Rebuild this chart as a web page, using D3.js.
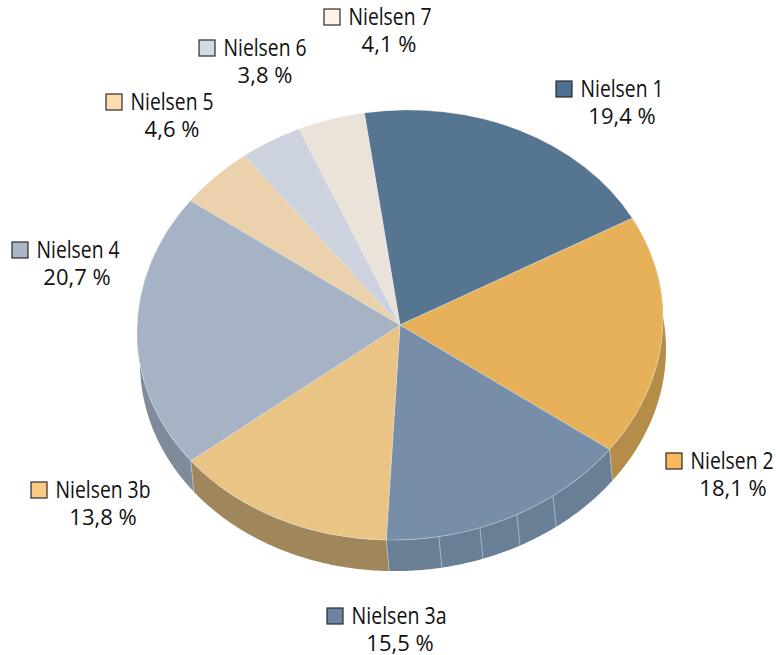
<!DOCTYPE html>
<html>
<head>
<meta charset="utf-8">
<script src="https://cdn.jsdelivr.net/npm/d3@7"></script>
<style>
  html, body { margin: 0; background: #fff; }
  text { font-family: "Open Sans", sans-serif; font-size: 23px; fill: #111; }
  text.val { font-size: 22px; }
</style>
</head>
<body>
<div id="chart"></div>
<script>
const categories = ["Nielsen 1", "Nielsen 2", "Nielsen 3a", "Nielsen 3b", "Nielsen 4", "Nielsen 5", "Nielsen 6", "Nielsen 7"];
const values = [19.4, 18.1, 15.5, 13.8, 20.7, 4.6, 3.8, 4.1];
const valueLabels = ["19,4 %", "18,1 %", "15,5 %", "13,8 %", "20,7 %", "4,6 %", "3,8 %", "4,1 %"];
const topColors = ["#557591", "#e6b158", "#778ea8", "#eac485", "#a6b3c4", "#ebd1ac", "#ccd3de", "#ebe3da"];
const sideColors = ["#445d74", "#b48d49", "#687f96", "#a0875b", "#7e8b9a", "#b5a184", "#9ea4ad", "#b5afa8"];
const swatchColors = ["#4f7093", "#f8b95c", "#6d85a3", "#fdca85", "#a9b6c8", "#fedcb0", "#d3dae6", "#fef4ea"];

// x of the label text centre and baselines, same order as categories
const labelX = [622, 733, 400, 103, 77, 172, 265, 389];
const labelY = [97, 469, 624, 498, 258, 110, 56, 25];
const swatchX = [556, 666, 327, 31, 12, 106, 199, 324];
const nameWidth = [83, 83, 95, 95, 83, 83, 83, 83];
const seamAngles = [144.4, 153.6, 162.3, 171.5]; // faint lines on the wall of 3a

const cx = 400, cy = 325, rx = 263, ry = 215, depth = 31, shift = 3;
const tilt = -0.026; // the ellipse leans a little, right side higher
const rad = d => d * Math.PI / 180;

const svg = d3.select("#chart").append("svg").attr("width", 776).attr("height", 655);

const pie = d3.pie().sort(null).startAngle(rad(-7.8)).endAngle(rad(352.2));
const slices = pie(values);

const rimY = a => cy - ry * Math.cos(a) + tilt * rx * Math.sin(a);

// side wall sits a little to the right of the top face
const wall = d3.area()
  .x0(a => cx + rx * Math.sin(a))
  .x1(a => cx + rx * Math.sin(a) + shift)
  .y0(rimY)
  .y1(a => rimY(a) + depth);

slices.forEach((s, i) => {
  const a0 = Math.max(s.startAngle, rad(75));
  const a1 = Math.min(s.endAngle, rad(272));
  if (a0 >= a1) return;
  svg.append("path")
    .attr("d", wall(d3.range(a0, a1, 0.01).concat(a1)))
    .attr("fill", sideColors[i]);
  if (s.startAngle > rad(75)) {
    svg.append("line")
      .attr("x1", wall.x0()(a0)).attr("x2", wall.x1()(a0))
      .attr("y1", wall.y0()(a0)).attr("y2", wall.y1()(a0))
      .attr("stroke", "#c9ccd0").attr("stroke-opacity", 0.6);
  }
});

seamAngles.forEach(d => {
  const a = rad(d);
  svg.append("line")
    .attr("x1", wall.x0()(a)).attr("x2", wall.x1()(a))
    .attr("y1", wall.y0()(a)).attr("y2", wall.y1()(a))
    .attr("stroke", "#a9b6c4").attr("stroke-width", 1);
});

const arc = d3.arc().innerRadius(0).outerRadius(rx);

svg.append("g")
  .attr("transform", `matrix(1,${tilt},0,${ry / rx},${cx},${cy})`)
  .selectAll("path")
  .data(slices)
  .join("path")
  .attr("d", arc)
  .attr("fill", (d, i) => topColors[i])
  .attr("stroke", "#e4e6ea")
  .attr("stroke-width", 0.6)
  .attr("stroke-opacity", 0.7);

const labels = svg.append("g").selectAll("g")
  .data(categories)
  .join("g");

labels.append("rect")
  .attr("x", (d, i) => swatchX[i])
  .attr("y", (d, i) => labelY[i] - 16)
  .attr("width", 16)
  .attr("height", 16)
  .attr("fill", (d, i) => swatchColors[i])
  .attr("stroke", "#2b2b2b")
  .attr("stroke-width", 1.2);

labels.append("text")
  .attr("x", (d, i) => swatchX[i] + 24.5)
  .attr("y", (d, i) => labelY[i])
  .attr("textLength", (d, i) => nameWidth[i])
  .attr("lengthAdjust", "spacingAndGlyphs")
  .text(d => d);

labels.append("text")
  .attr("class", "val")
  .attr("x", (d, i) => labelX[i])
  .attr("y", (d, i) => labelY[i] + 27)
  .attr("text-anchor", "middle")
  .text((d, i) => valueLabels[i]);
</script>
</body>
</html>
